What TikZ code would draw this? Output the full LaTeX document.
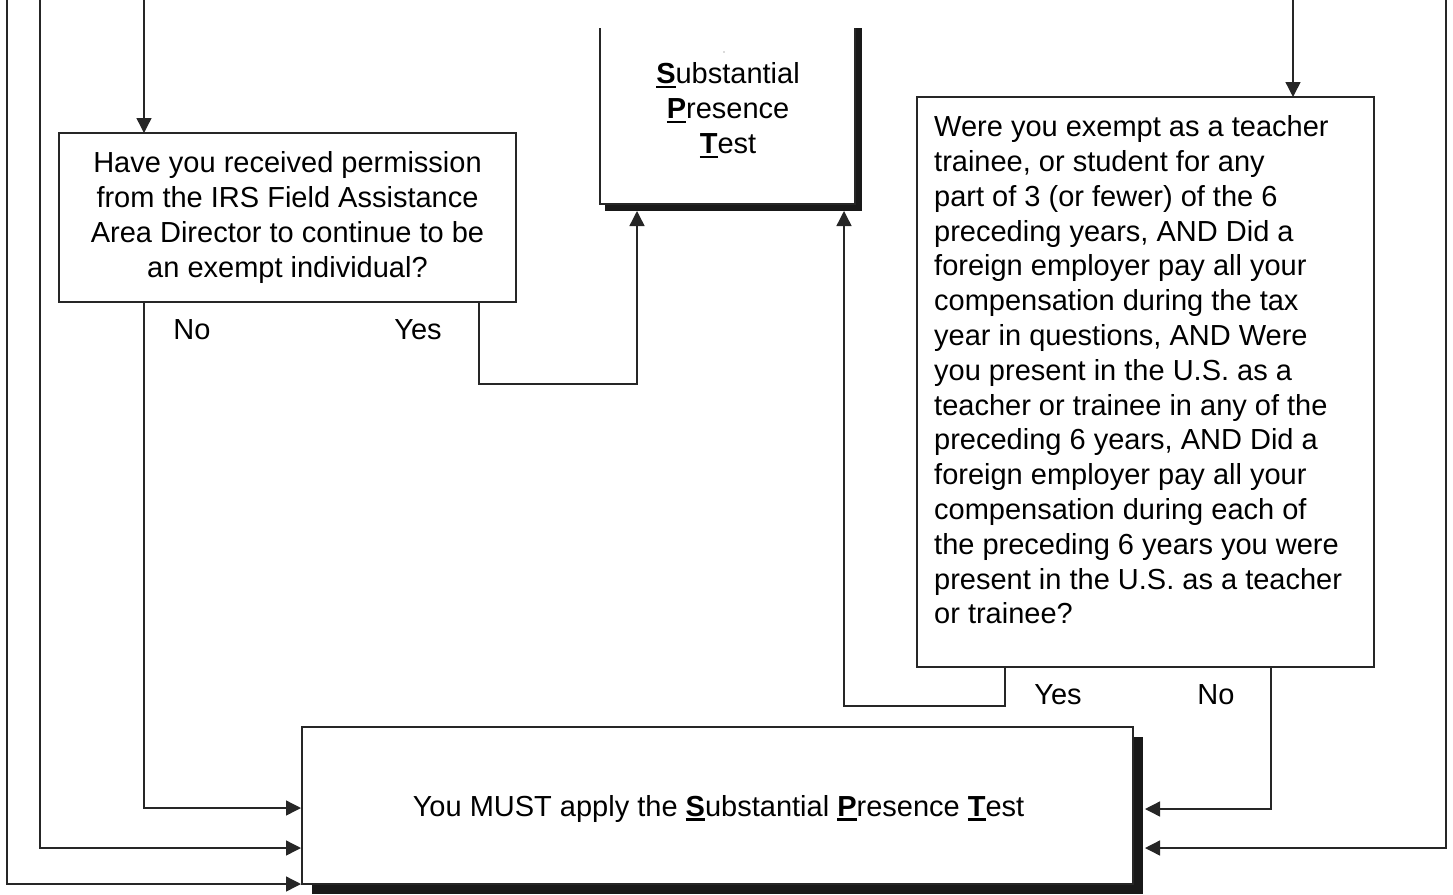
\documentclass[tikz,border=0pt]{standalone}
\usepackage{fontspec}
\setmainfont{Liberation Sans}
\usetikzlibrary{arrows.meta,calc}
\newcommand\myul[1]{\setbox0\hbox{#1}\rlap{\raisebox{-4.5pt}{\rule{\wd0}{2.4pt}}}\box0}
\begin{document}
\begin{tikzpicture}[x=1pt,y=-1pt,
  line/.style={draw=black!85, line width=1.4pt},
  arr/.style={line, -{Triangle[length=15pt,width=15pt]}},
  box/.style={draw=black!85, line width=1.4pt, fill=white, rectangle, inner sep=0pt, outer sep=0pt},
  plainbox/.style={rectangle, inner sep=0pt, outer sep=0pt},
  txt/.style={font=\fontsize{29}{34.8}\selectfont, align=center, inner sep=0pt},
  lab/.style={font=\fontsize{29}{34.8}\selectfont, inner sep=0pt},
  shadowfill/.style={fill=black!90}
]
\useasboundingbox (0,0) rectangle (1453,894);

% Substantial Presence Test box (top, open at top)
\node[plainbox, minimum width=255pt, minimum height=176pt] (S) at (727.5,116) {};
\fill[shadowfill] ($(S.north west)+(5,0)$) rectangle ($(S.south east)+(7,7)$);
\fill[white] (S.north west) rectangle (S.south east);
\draw[line] (S.north west) -- (S.south west) -- (S.south east) -- (S.north east);
\node[txt] (St) at (728,110.5) {\myul{\textbf{S}}ubstantial\\\myul{\textbf{P}}resence\\\myul{\textbf{T}}est};
\fill[black!60] (724,52) circle (0.7);

% Left question box
\node[box, txt, minimum width=457pt, minimum height=169pt] (Q1) at (287.5,217.5)
  {Have you received permission\\from the IRS Field Assistance\\Area Director to continue to be\\an exempt individual?};

% Right question box
\node[box, minimum width=457pt, minimum height=570pt] (Q2) at (1145.5,382) {};
\node[lab, align=left, anchor=north west] (Q2t) at (934,115.5) {Were you exempt as a teacher\\
trainee, or student for any\\
part of 3 (or fewer) of the 6\\
preceding years, AND Did a\\
foreign employer pay all your\\
compensation during the tax\\
year in questions, AND Were\\
you present in the U.S. as a\\
teacher or trainee in any of the\\
preceding 6 years, AND Did a\\
foreign employer pay all your\\
compensation during each of\\
the preceding 6 years you were\\
present in the U.S. as a teacher\\
or trainee?};

% Bottom box
\node[plainbox, minimum width=831pt, minimum height=157pt] (B) at (717.5,805.5) {};
\fill[shadowfill] ($(B.north west)+(10,10)$) rectangle ($(B.south east)+(10,10)$);
\node[box, minimum width=831pt, minimum height=157pt] (Bb) at (B.center) {};
\node[txt] (Bt) at (718.5,808.5)
  {You MUST apply the \myul{\textbf{S}}ubstantial \myul{\textbf{P}}resence \myul{\textbf{T}}est};

% Labels
\node[lab] (no1) at (192,329.5) {No};
\node[lab] (yes1) at (418,329.5) {Yes};
\node[lab] (yes2) at (1058,694.5) {Yes};
\node[lab] (no2) at (1216,694.5) {No};

% Coordinates
\coordinate (t1) at (144,0);
\coordinate (t2) at (1293,0);
\coordinate (l1) at (40,0);
\coordinate (l2) at (7,0);
\coordinate (r1) at (1446,0);
\coordinate (nob) at (144,808);
\coordinate (ya) at (479,384);
\coordinate (yb) at (637,384);
\coordinate (yc) at (1005,706);
\coordinate (yd) at (844,706);
\coordinate (nc) at (1271,809);
\coordinate (l1b) at (40,848);
\coordinate (l2b) at (7,884);
\coordinate (r1b) at (1446,848);
\coordinate (Sbot) at (0,211);
\coordinate (Bleft) at (301,0);
\coordinate (Bright) at (1145,0);

% Connectors
\draw[arr] (t1) -- (t1 |- Q1.north);
\draw[arr] (t2) -- (t2 |- Q2.north);
\draw[arr] (Q1.south -| nob) -- (nob) -- (nob -| Bleft);
\draw[arr] (Q1.south -| ya) -- (ya) -- (yb) -- (yb |- Sbot);
\draw[arr] (Q2.south -| yc) -- (yc) -- (yd) -- (yd |- Sbot);
\draw[arr] (Q2.south -| nc) -- (nc) -- (nc -| Bright);
\draw[arr] (l1) -- (l1b) -- (l1b -| Bleft);
\draw[arr] (l2) -- (l2b) -- (l2b -| Bleft);
\draw[arr] (r1) -- (r1b) -- (r1b -| Bright);
\end{tikzpicture}
\end{document}
